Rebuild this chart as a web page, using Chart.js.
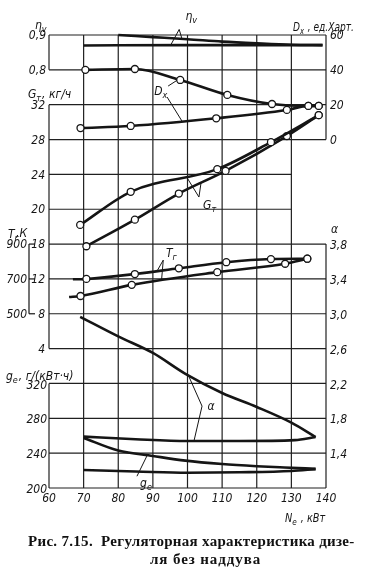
<!DOCTYPE html>
<html>
<head>
<meta charset="utf-8">
<title>Регуляторная характеристика дизеля без наддува</title>
<style>
    body { margin: 0; background: #fff; }
    #wrap { position: relative; width: 368px; height: 578px; overflow: hidden; }
    #chart { position: absolute; left: 0; top: 0; }
    .cap {
        position: absolute;
        font-family: "Liberation Serif", "DejaVu Serif", serif;
        font-weight: bold;
        font-size: 15px;
        letter-spacing: 0.3px;
        color: #111;
        white-space: pre;
    }
</style>
</head>
<body>
<div id="wrap">
    <canvas id="chart" width="368" height="578"></canvas>
    <div class="cap" style="left:28px; top:533px;">Рис. 7.15.  Регуляторная характеристика дизе-</div>
    <div class="cap" style="left:150px; top:551px; letter-spacing:0.9px;">ля без наддува</div>
</div>
<script src="https://cdn.jsdelivr.net/npm/chart.js"></script>
<script>
// Ne, кВт and values, one pair of arrays per curve
const etaTopNe = [80, 90, 100, 110, 120, 130, 139];
const etaTop   = [0.900, 0.894, 0.888, 0.881, 0.876, 0.872, 0.871];
const etaLowNe = [70, 100, 139];
const etaLow   = [0.870, 0.871, 0.871];

const dxTopNe = [70.5, 84.8, 97.9, 111.5, 124.4, 134.9, 137.9];
const dxTop   = [40, 40.5, 34.2, 25.6, 20.4, 19.3, 19.3];
const dxLowNe = [69.1, 83.6, 108.3, 128.7, 134.9, 137.9];
const dxLow   = [6.6, 7.8, 12.2, 17.0, 19.3, 19.3];

const gUpNe  = [69.0, 83.6, 108.6, 124.1, 137.9];
const gUp    = [18.2, 22.0, 24.6, 27.7, 30.8];
const gLowNe = [70.8, 84.8, 97.5, 111.0, 128.7, 137.9];
const gLow   = [15.75, 18.8, 21.8, 24.4, 28.4, 30.8];

const trUpNe  = [66.9, 70.8, 84.8, 97.5, 111.2, 124.1, 134.6];
const trUp    = [698, 700, 728, 761, 796, 814, 816];
const trLowNe = [65.8, 69.1, 83.9, 108.6, 128.2, 134.6];
const trLow   = [596, 602, 666, 739, 787, 816];

const alphaUpNe  = [69.0, 80, 90, 99.4, 110, 120, 130, 137.0];
const alphaUp    = [2.965, 2.74, 2.55, 2.31, 2.09, 1.93, 1.75, 1.585];
const alphaLowNe = [70, 85, 100, 115, 131, 137.0];
const alphaLow   = [1.59, 1.56, 1.54, 1.54, 1.55, 1.585];

const geUpNe  = [70, 80, 90, 99.4, 110, 120, 128, 137.0];
const geUp    = [257.5, 243, 236.8, 231.4, 227.5, 225, 223.5, 222];
const geLowNe = [70, 85, 100, 115, 130, 137.0];
const geLow   = [220.6, 219, 217.5, 218, 219.5, 221.7];

// tick labels of each scale
const neTicks    = [60, 70, 80, 90, 100, 110, 120, 130, 140];
const etaTicks   = [0.9, 0.8];
const gTicks     = [32, 28, 24, 20, 16, 12, 8, 4];
const gTickText  = ['32', '28', '24', '20', '18', '12', '8', '4'];
const trTicks    = [900, 700, 500];
const geTicks    = [320, 280, 240, 200];
const dxTicks    = [60, 40, 20, 0];
const alphaTicks = [3.8, 3.4, 3.0, 2.6, 2.2, 1.8, 1.4];

const FAMILY = '"Liberation Sans Narrow", "DejaVu Sans Condensed", "DejaVu Sans", sans-serif';
const INK = '#151515';
const F = 'italic 12px ' + FAMILY;
const FS = 'italic 9px ' + FAMILY;

const pts = (xs, ys) => xs.map((x, i) => ({ x: x, y: ys[i] }));
const comma = v => v.toFixed(1).replace('.', ',');

function line(data, axis, marks, skipFirst) {
    return {
        data: data,
        yAxisID: axis,
        borderColor: INK,
        borderWidth: 2.6,
        cubicInterpolationMode: 'monotone',
        pointRadius: marks ? (c => (skipFirst && c.dataIndex === 0) ? 0 : 3.5) : 0,
        pointBackgroundColor: '#fff',
        pointBorderColor: INK,
        pointBorderWidth: 1.3,
        clip: false
    };
}

// text with a subscript: main, sub, rest; squeeze < 1 narrows the text
function say(ctx, x, y, main, sub, rest, squeeze) {
    const k = squeeze || 1;
    ctx.save();
    ctx.translate(x, y);
    ctx.scale(k, 1);
    ctx.font = F;
    ctx.textAlign = 'left';
    ctx.textBaseline = 'alphabetic';
    ctx.fillText(main, 0, 0);
    let w = ctx.measureText(main).width;
    if (sub) {
        ctx.font = FS;
        ctx.fillText(sub, w, 3);
        w += ctx.measureText(sub).width + 1;
        ctx.font = F;
    }
    if (rest) ctx.fillText(rest, w, 0);
    ctx.restore();
}

const paper = {
    id: 'paper',
    beforeDatasetsDraw(chart) {
        const { ctx, scales: { x, yRow } } = chart;
        ctx.save();
        ctx.strokeStyle = '#202020';
        ctx.lineWidth = 1.2;
        const seg = (n1, r1, n2, r2) => {
            ctx.beginPath();
            ctx.moveTo(x.getPixelForValue(n1), yRow.getPixelForValue(r1));
            ctx.lineTo(x.getPixelForValue(n2), yRow.getPixelForValue(r2));
            ctx.stroke();
        };
        for (let r = 0; r <= 13; r++) seg(60, r, (r === 8 || r === 9) ? 130 : 140, r);
        for (let n = 70; n <= 130; n += 10) seg(n, 0, n, 13);
        seg(60, 12, 60, 13); seg(60, 4, 60, 11); seg(60, 0, 60, 3);
        seg(140, 10, 140, 13); seg(140, 0, 140, 7);
        ctx.restore();
    },
    afterDatasetsDraw(chart) {
        const { ctx, chartArea: a, scales: s } = chart;
        const X = v => s.x.getPixelForValue(v);
        ctx.save();
        ctx.fillStyle = INK;
        ctx.strokeStyle = INK;

        // tick labels
        ctx.font = F;
        ctx.textBaseline = 'middle';
        ctx.textAlign = 'right';
        etaTicks.forEach(v => ctx.fillText(comma(v), a.left - 3, s.yEta.getPixelForValue(v) + 1));
        gTicks.forEach((v, i) => ctx.fillText(gTickText[i], a.left - 4, s.yG.getPixelForValue(v) + 1));
        trTicks.forEach(v => ctx.fillText(String(v), a.left - 22, s.yT.getPixelForValue(v) + 1));
        geTicks.forEach(v => ctx.fillText(String(v), a.left - 2, s.yGe.getPixelForValue(v) + 2));
        ctx.textAlign = 'left';
        dxTicks.forEach(v => ctx.fillText(String(v), a.right + 4, s.yDx.getPixelForValue(v) + 1));
        alphaTicks.forEach(v => ctx.fillText(comma(v), a.right + 4, s.yA.getPixelForValue(v) + 2));

        // T_r bracket
        ctx.lineWidth = 1.2;
        const bx = a.left - 20;
        ctx.beginPath();
        ctx.moveTo(bx, s.yT.getPixelForValue(900));
        ctx.lineTo(bx, s.yT.getPixelForValue(500));
        ctx.stroke();
        trTicks.forEach(v => {
            const y = s.yT.getPixelForValue(v);
            ctx.beginPath(); ctx.moveTo(bx, y); ctx.lineTo(a.left - 14, y); ctx.stroke();
        });

        // axis titles
        say(ctx, a.left - 14, a.top - 6, 'η', 'v');
        say(ctx, a.left - 21, s.yG.getPixelForValue(32) - 7, 'G', 'т', ', кг/ч');
        say(ctx, a.left - 41, s.yT.getPixelForValue(900) - 6, 'T', 'г');
        ctx.font = F;
        ctx.fillText(',К', a.left - 33, s.yT.getPixelForValue(900) - 10);
        say(ctx, a.left - 43, s.yGe.getPixelForValue(320) - 3, 'g', 'е', ', г/(кВт·ч)');
        say(ctx, a.right - 33, a.top - 4, 'D', 'x', ' , ед.Харт.', 0.84);
        say(ctx, a.right + 5, s.yA.getPixelForValue(3.8) - 11, 'α');
        say(ctx, a.right - 41, a.bottom + 34, 'N', 'е', ' , кВт', 0.9);

        // curve labels with leaders
        const lead = (axis, pts) => {
            ctx.beginPath();
            pts.forEach((p, i) => {
                const px = X(p[0]), py = s[axis].getPixelForValue(p[1]);
                if (i === 0) ctx.moveTo(px, py); else ctx.lineTo(px, py);
            });
            ctx.stroke();
        };
        ctx.lineWidth = 1;
        say(ctx, X(99.4), s.yEta.getPixelForValue(0.943), 'η', 'v');
        lead('yEta', [[95.2, 0.872], [97.6, 0.916], [98.4, 0.889]]);

        say(ctx, X(90.4), s.yDx.getPixelForValue(25.6), 'D', 'x');
        lead('yDx', [[94.4, 30.7], [96.9, 33.9]]);
        lead('yDx', [[94.1, 24.4], [98.4, 10.6]]);

        say(ctx, X(104.5), s.yG.getPixelForValue(20.0), 'G', 'т');
        lead('yG', [[99.9, 23.6], [103.3, 21.4], [103.9, 23.0]]);

        say(ctx, X(93.8), s.yT.getPixelForValue(826), 'T', 'г');
        lead('yT', [[91.2, 745], [93.0, 808], [92.5, 692]]);

        say(ctx, X(105.8), s.yA.getPixelForValue(1.896), 'α');
        lead('yA', [[100.4, 2.28], [104.2, 1.94], [101.9, 1.545]]);

        say(ctx, X(86.3), s.yGe.getPixelForValue(201), 'g', 'е');
        lead('yGe', [[85.4, 213.5], [88.3, 237.0]]);

        ctx.restore();
    }
};

const hidden = (min, max) => ({ display: false, min: min, max: max });

new Chart(document.getElementById('chart'), {
    type: 'line',
    data: {
        datasets: [
            line(pts(etaTopNe, etaTop), 'yEta', false),
            line(pts(etaLowNe, etaLow), 'yEta', false),
            line(pts(dxTopNe, dxTop), 'yDx', true),
            line(pts(dxLowNe, dxLow), 'yDx', true),
            line(pts(gUpNe, gUp), 'yG', true),
            line(pts(gLowNe, gLow), 'yG', true),
            line(pts(trUpNe, trUp), 'yT', true, true),
            line(pts(trLowNe, trLow), 'yT', true, true),
            line(pts(alphaUpNe, alphaUp), 'yA', false),
            line(pts(alphaLowNe, alphaLow), 'yA', false),
            line(pts(geUpNe, geUp), 'yGe', false),
            line(pts(geLowNe, geLow), 'yGe', false)
        ]
    },
    options: {
        responsive: false,
        animation: false,
        events: [],
        layout: { padding: { top: 35, left: 49, right: 42, bottom: 0 } },
        plugins: { legend: { display: false }, tooltip: { enabled: false } },
        scales: {
            x: {
                type: 'linear',
                min: neTicks[0],
                max: neTicks[neTicks.length - 1],
                afterBuildTicks: sc => { sc.ticks = neTicks.map(v => ({ value: v })); },
                afterFit: sc => { sc.height = 90; },
                grid: { display: false, drawTicks: false },
                border: { display: false },
                ticks: { padding: 4, color: INK, maxRotation: 0, font: { family: FAMILY, size: 12, style: 'italic' } }
            },
            yRow: hidden(0, 13),
            yEta: hidden(-0.4, 0.9),
            yG: hidden(-12, 40),
            yT: hidden(-500, 2100),
            yGe: hidden(200, 720),
            yDx: hidden(-200, 60),
            yA: hidden(1.0, 6.2)
        }
    },
    plugins: [paper]
});
</script>
</body>
</html>
